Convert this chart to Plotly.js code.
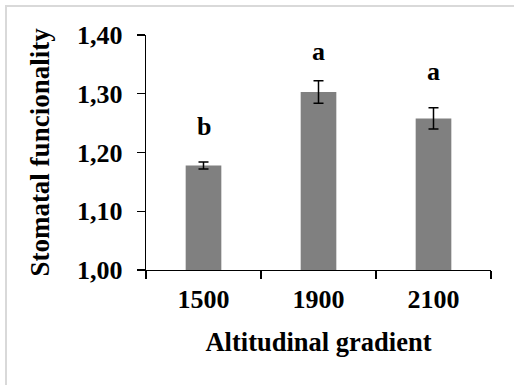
<!DOCTYPE html>
<html>
<head>
<meta charset="utf-8">
<script src="https://cdn.plot.ly/plotly-3.0.1.min.js"></script>
<style>
  html, body { margin: 0; padding: 0; background: #fff; }
  #wrap { position: relative; width: 514px; height: 385px; overflow: hidden; }
  #frame { position: absolute; left: 5px; top: 5px; width: 600px; height: 500px;
           border-left: 2px solid #d9d9d9; border-top: 2px solid #d9d9d9; pointer-events: none; }
  #chart { position: absolute; left: 0; top: 0; width: 514px; height: 385px; }
</style>
</head>
<body>
<div id="wrap">
  <div id="chart"></div>
  <div id="frame"></div>
</div>
<script>
const categories = ['1500', '1900', '2100'];
const values = [1.178, 1.303, 1.258];
const errors = [0.006, 0.019, 0.018];
const letters = ['b', 'a', 'a'];
const letterY = [1.216, 1.343, 1.309];
const yTickVals = [1.0, 1.1, 1.2, 1.3, 1.4];
const yTickText = ['1,00', '1,10', '1,20', '1,30', '1,40'];

const FONT = 'Liberation Serif, Times New Roman, serif';

const trace = {
  type: 'bar',
  x: categories,
  y: values,
  width: 0.31,
  marker: { color: '#808080', line: { width: 0 } },
  error_y: { type: 'data', array: errors, visible: true, color: '#000', thickness: 1.5, width: 5 },
  hoverinfo: 'skip'
};

const annotations = categories.map((c, i) => ({
  x: i, y: letterY[i], xref: 'x', yref: 'y',
  text: '<b>' + letters[i] + '</b>', showarrow: false,
  yanchor: 'bottom', xanchor: 'center',
  font: { family: FONT, size: 26, color: '#000' }
}));

const layout = {
  width: 514, height: 385,
  margin: { l: 146, r: 23, t: 35, b: 115, pad: 0 },
  paper_bgcolor: 'rgba(0,0,0,0)', plot_bgcolor: 'rgba(0,0,0,0)',
  showlegend: false,
  font: { family: FONT, color: '#000' },
  xaxis: {
    type: 'category',
    categoryorder: 'array', categoryarray: categories,
    range: [-0.5, categories.length - 0.5],
    showline: true, linecolor: '#000', linewidth: 1.3,
    ticks: 'outside', tickson: 'boundaries', ticklen: 8, tickwidth: 1.3, tickcolor: '#000',
    tickangle: 0, ticklabelstandoff: 5,
    tickfont: { family: FONT, size: 26, color: '#000', weight: 'bold' },
    showgrid: false, zeroline: false,
    title: { text: '<b>Altitudinal gradient</b>', font: { family: FONT, size: 26.5, color: '#000' }, standoff: 20 },
    automargin: false
  },
  yaxis: {
    range: [1.0, 1.4],
    tickvals: yTickVals, ticktext: yTickText,
    showline: true, linecolor: '#000', linewidth: 1.3,
    ticks: 'outside', ticklen: 8, tickwidth: 1.3, tickcolor: '#000',
    ticklabelstandoff: 9,
    tickfont: { family: FONT, size: 26, color: '#000', weight: 'bold' },
    showgrid: false, zeroline: false,
    title: { text: '<b>Stomatal funcionality</b>', font: { family: FONT, size: 27, color: '#000' }, standoff: 19 },
    automargin: false
  },
  annotations: annotations
};

Plotly.newPlot('chart', [trace], layout, { displayModeBar: false, staticPlot: true });
</script>
</body>
</html>
